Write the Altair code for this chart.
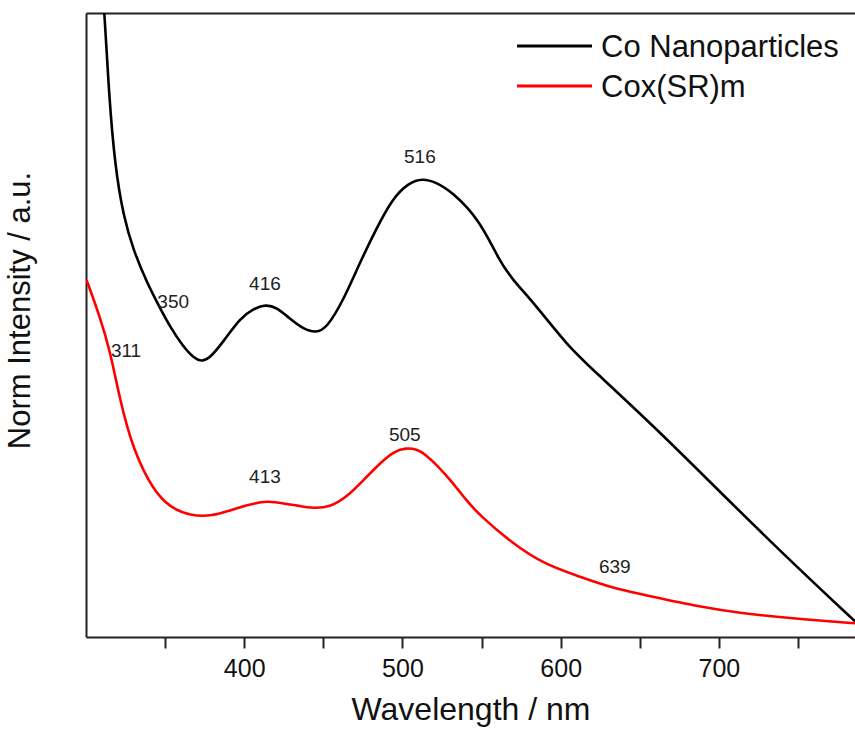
import altair as alt
import pandas as pd

# ---- data ----
series_names = ["Co Nanoparticles", "Cox(SR)m"]
series_colors = ["#000000", "#ff0000"]

co_wl = [310.3, 311.7, 314.5, 318.3, 323.6, 329.9, 338.5, 346.0, 353.1,
         361.5, 367.8, 373.1, 378.3, 386.7, 397.3, 405.7, 413.7, 420.5, 428.0, 437.0,
         445.3, 452.2, 462.7, 473.1, 483.2, 493.7, 504.0, 512.6, 521.0, 531.6, 548.8, 560.8,
         569.4, 583.2, 603.9, 620.9, 658.8, 700.5, 745.1, 786.0]
co_val = [1.04, 1.0, 0.870, 0.755, 0.675, 0.620, 0.568, 0.531, 0.497,
          0.465, 0.448, 0.441, 0.447, 0.473, 0.511, 0.526, 0.533, 0.528, 0.512, 0.494,
          0.487, 0.495, 0.540, 0.600, 0.653, 0.703, 0.728, 0.735, 0.729, 0.713, 0.668, 0.605,
          0.573, 0.535, 0.468, 0.427, 0.338, 0.233, 0.122, 0.025]

cox_wl = [300.4, 308.8, 315.2, 321.5, 329.9, 342.5, 353.0, 365.7, 380.4, 391.0, 401.5, 414.2,
          426.8, 433.1, 443.6, 454.1, 464.7, 475.2, 486.8, 495.0, 502.3, 509.0, 514.3, 522.0,
          531.6, 540.0, 548.8, 569.4, 590.1, 610.8, 631.5, 659.0, 686.6, 714.1, 745.1, 786.0]
cox_val = [0.572, 0.513, 0.459, 0.379, 0.299, 0.235, 0.208, 0.194, 0.194, 0.203, 0.211, 0.219,
           0.213, 0.211, 0.206, 0.208, 0.224, 0.251, 0.281, 0.298, 0.303, 0.301, 0.293, 0.275,
           0.248, 0.220, 0.195, 0.150, 0.116, 0.098, 0.079, 0.064, 0.049, 0.038, 0.030, 0.022]

peak_labels = ["350", "416", "516", "311", "413", "505", "639"]
peak_x = [355.1, 413.1, 511.0, 325.3, 413.1, 501.5, 634.2]
peak_y = [0.537, 0.566, 0.769, 0.458, 0.256, 0.324, 0.112]

x_ticks = [350, 400, 450, 500, 550, 600, 650, 700, 750]

# ---- tables ----
df = pd.concat([
    pd.DataFrame({"wl": co_wl, "v": co_val, "series": series_names[0]}),
    pd.DataFrame({"wl": cox_wl, "v": cox_val, "series": series_names[1]}),
], ignore_index=True)
labels_df = pd.DataFrame({"wl": peak_x, "v": peak_y, "label": peak_labels})

FONT = "Liberation Sans"
x_scale = alt.Scale(domain=[300, 786.0], nice=False, zero=False)
y_scale = alt.Scale(domain=[0, 1], nice=False, zero=False)
color_scale = alt.Scale(domain=series_names, range=series_colors)

lines = alt.Chart(df).mark_line(strokeWidth=2.6, clip=True, interpolate="basis").encode(
    x=alt.X("wl:Q", scale=x_scale, title="Wavelength / nm",
            axis=alt.Axis(values=x_ticks, orient="bottom",
                          labelExpr="datum.value % 100 == 0 ? datum.label : ''",
                          tickSize=11, tickWidth=2, tickColor="#222",
                          domainColor="#222", domainWidth=2,
                          labelFont=FONT, labelFontSize=25, labelColor="#111",
                          labelPadding=8, titleFont=FONT, titleFontSize=32,
                          titleFontWeight="normal", titleColor="#111",
                          titlePadding=13, grid=False)),
    y=alt.Y("v:Q", scale=y_scale, title="Norm Intensity / a.u.",
            axis=alt.Axis(labels=False, ticks=False, domainColor="#222", domainWidth=2,
                          titleFont=FONT, titleFontSize=31, titleFontWeight="normal",
                          titleColor="#111", titlePadding=50, titleY=297, grid=False)),
    color=alt.Color("series:N", scale=color_scale, legend=None),
)

texts = alt.Chart(labels_df).mark_text(font=FONT, fontSize=19, color="#222",
                                       baseline="middle", align="center").encode(
    x=alt.X("wl:Q", scale=x_scale,
            axis=alt.Axis(orient="top", labels=False, ticks=False, title=None,
                          domainColor="#222", domainWidth=2, grid=False)),
    y=alt.Y("v:Q", scale=y_scale),
    text="label:N",
)

# ---- legend (drawn as marks, one row per series) ----
legend_layers = []
for i, (name, col) in enumerate(zip(series_names, series_colors)):
    row = pd.DataFrame({"series": [name]})
    yrow = 33 + 40 * i
    legend_layers.append(
        alt.Chart(row).mark_rule(strokeWidth=3, color=col).encode(
            x=alt.value(431), x2=alt.value(506), y=alt.value(yrow))
    )
    legend_layers.append(
        alt.Chart(row).mark_text(font=FONT, fontSize=31, color="#111", align="left",
                                 baseline="middle").encode(
            x=alt.value(515), y=alt.value(yrow + 2), text="series:N")
    )

chart = alt.layer(lines, texts, *legend_layers).resolve_axis(x="independent").properties(
    width=769, height=624, autosize="none",
    padding={"left": 86, "top": 13, "right": 0, "bottom": 97},
).configure_view(stroke=None)

chart.save("out.html", embed_options={"renderer": "svg", "actions": False})
